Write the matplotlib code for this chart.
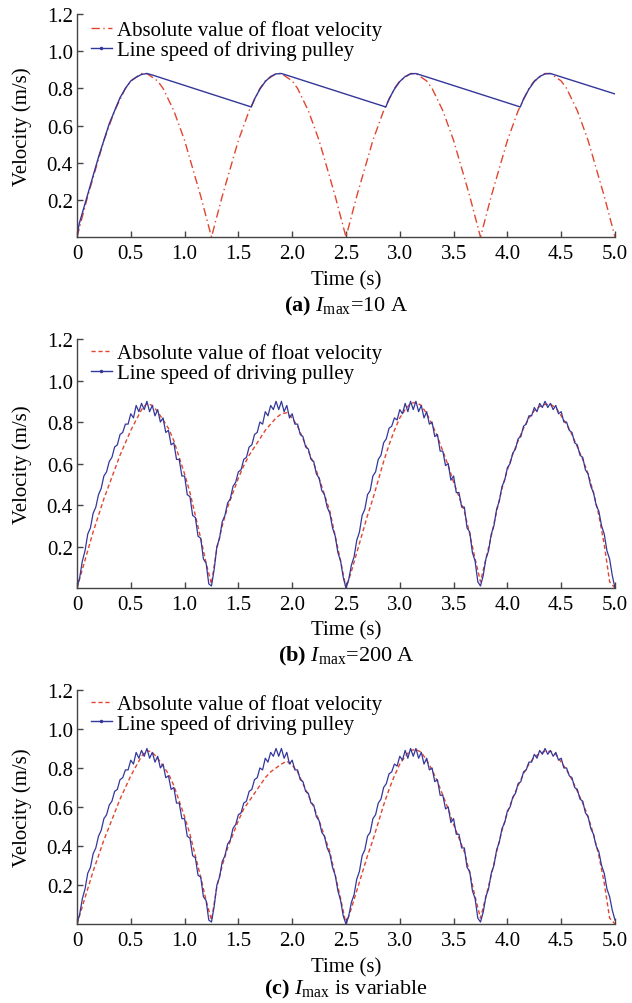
#Float velocity vs. driving pulley line speed for three current limits
#Output: out.png

import numpy as np
import matplotlib
matplotlib.use("Agg")
import matplotlib.pyplot as plt
from matplotlib.lines import Line2D

plt.rcParams["font.family"] = "Liberation Serif"
plt.rcParams["mathtext.fontset"] = "custom"
plt.rcParams["mathtext.rm"] = "Liberation Serif"
plt.rcParams["mathtext.it"] = "Liberation Serif:italic"
plt.rcParams["mathtext.bf"] = "Liberation Serif:bold"

RED = "#e2452f"
BLUE = "#33379a"
AXIS_GREY = "#444444"
FS = 15

labels = ["Absolute value of float velocity", "Line speed of driving pulley"]

x_ticks = [0, 0.5, 1.0, 1.5, 2.0, 2.5, 3.0, 3.5, 4.0, 4.5, 5.0]
x_tick_labels = ["0", "0.5", "1.0", "1.5", "2.0", "2.5", "3.0", "3.5", "4.0", "4.5", "5.0"]
y_ticks = [0.2, 0.4, 0.6, 0.8, 1.0, 1.2]
y_tick_labels = ["0.2", "0.4", "0.6", "0.8", "1.0", "1.2"]

#Sample times (s)
t_coarse = np.linspace(0, 5, 101)   # 0.05 s step
t_fine = np.linspace(0, 5, 201)     # 0.025 s step

#(a) Imax = 10 A
float_a = [
    0.00, 0.11, 0.22, 0.32, 0.42, 0.52, 0.60, 0.68, 0.74, 0.80,
    0.84, 0.86, 0.88, 0.88, 0.86, 0.84, 0.80, 0.74, 0.68, 0.60,
    0.52, 0.42, 0.32, 0.22, 0.11, 0.00, 0.11, 0.22, 0.32, 0.42,
    0.52, 0.60, 0.68, 0.74, 0.80, 0.84, 0.86, 0.88, 0.88, 0.86,
    0.84, 0.80, 0.74, 0.68, 0.60, 0.52, 0.42, 0.32, 0.22, 0.11,
    0.00, 0.11, 0.22, 0.32, 0.42, 0.52, 0.60, 0.68, 0.74, 0.80,
    0.84, 0.86, 0.88, 0.88, 0.86, 0.84, 0.80, 0.74, 0.68, 0.60,
    0.52, 0.42, 0.32, 0.22, 0.11, 0.00, 0.11, 0.22, 0.32, 0.42,
    0.52, 0.60, 0.68, 0.74, 0.80, 0.84, 0.86, 0.88, 0.88, 0.86,
    0.84, 0.80, 0.74, 0.68, 0.60, 0.52, 0.42, 0.32, 0.22, 0.11,
    0.00,
]
pulley_a_t = [
    0.00, 0.02, 0.05, 0.10, 0.15, 0.20, 0.25, 0.30, 0.35, 0.40, 0.45, 0.50,
    0.55, 0.60, 0.65, 0.70,
    1.62, 1.65, 1.70, 1.75, 1.80, 1.85, 1.90, 1.95,
    2.87, 2.90, 2.95, 3.00, 3.05, 3.10, 3.15, 3.20,
    4.12, 4.15, 4.20, 4.25, 4.30, 4.35, 4.40, 4.45,
    5.00,
]
pulley_a = [
    0.00, 0.07, 0.13, 0.23, 0.33, 0.43, 0.52, 0.61, 0.68, 0.75, 0.80, 0.84,
    0.86, 0.875, 0.88, 0.872,
    0.70, 0.743, 0.796, 0.837, 0.864, 0.878, 0.880, 0.871,
    0.70, 0.743, 0.796, 0.837, 0.864, 0.878, 0.880, 0.871,
    0.70, 0.743, 0.796, 0.837, 0.864, 0.878, 0.880, 0.871,
    0.77,
]

#(b) Imax = 200 A
float_b = [
    0.00, 0.09, 0.18, 0.27, 0.35, 0.43, 0.50, 0.57, 0.64, 0.70,
    0.76, 0.81, 0.86, 0.89, 0.88, 0.85, 0.81, 0.77, 0.71, 0.63,
    0.55, 0.46, 0.35, 0.24, 0.12, 0.02, 0.19, 0.30, 0.39, 0.46,
    0.53, 0.59, 0.64, 0.68, 0.72, 0.76, 0.79, 0.82, 0.84, 0.845,
    0.82, 0.78, 0.72, 0.66, 0.60, 0.53, 0.45, 0.37, 0.25, 0.13,
    0.00, 0.08, 0.17, 0.26, 0.35, 0.43, 0.52, 0.61, 0.69, 0.76,
    0.82, 0.86, 0.89, 0.895, 0.88, 0.84, 0.79, 0.73, 0.66, 0.59,
    0.51, 0.44, 0.37, 0.26, 0.14, 0.03, 0.14, 0.25, 0.37, 0.48,
    0.57, 0.645, 0.71, 0.77, 0.82, 0.855, 0.875, 0.885, 0.885, 0.87,
    0.83, 0.79, 0.74, 0.68, 0.62, 0.55, 0.46, 0.35, 0.21, 0.03,
    0.00,
]
pulley_b = [
    0.00, 0.05, 0.13, 0.18, 0.26, 0.29, 0.36, 0.39, 0.45, 0.48,
    0.54, 0.56, 0.61, 0.63, 0.68, 0.69, 0.74, 0.75, 0.79, 0.79,
    0.84, 0.82, 0.88, 0.85, 0.89, 0.86, 0.90, 0.85, 0.88, 0.83,
    0.86, 0.80, 0.82, 0.75, 0.76, 0.69, 0.70, 0.62, 0.62, 0.54,
    0.54, 0.45, 0.44, 0.35, 0.34, 0.25, 0.24, 0.14, 0.12, 0.02,
    0.01, 0.09, 0.20, 0.24, 0.32, 0.35, 0.41, 0.43, 0.49, 0.51,
    0.56, 0.57, 0.62, 0.63, 0.68, 0.69, 0.74, 0.75, 0.80, 0.79,
    0.85, 0.83, 0.88, 0.86, 0.90, 0.86, 0.90, 0.85, 0.88, 0.82,
    0.84, 0.79, 0.79, 0.74, 0.73, 0.68, 0.67, 0.62, 0.61, 0.55,
    0.53, 0.47, 0.45, 0.39, 0.36, 0.29, 0.25, 0.17, 0.13, 0.05,
    0.00, 0.04, 0.11, 0.15, 0.23, 0.27, 0.35, 0.38, 0.45, 0.47,
    0.54, 0.56, 0.62, 0.64, 0.70, 0.72, 0.77, 0.78, 0.82, 0.81,
    0.86, 0.84, 0.89, 0.85, 0.90, 0.86, 0.90, 0.85, 0.88, 0.82,
    0.85, 0.79, 0.80, 0.73, 0.74, 0.66, 0.66, 0.59, 0.60, 0.52,
    0.54, 0.46, 0.46, 0.39, 0.39, 0.29, 0.27, 0.17, 0.13, 0.03,
    0.01, 0.06, 0.14, 0.18, 0.26, 0.30, 0.38, 0.42, 0.49, 0.52,
    0.58, 0.60, 0.65, 0.67, 0.72, 0.73, 0.78, 0.79, 0.83, 0.83,
    0.87, 0.85, 0.89, 0.87, 0.90, 0.87, 0.89, 0.86, 0.88, 0.84,
    0.85, 0.80, 0.80, 0.76, 0.75, 0.70, 0.69, 0.64, 0.63, 0.57,
    0.55, 0.49, 0.46, 0.40, 0.37, 0.30, 0.26, 0.18, 0.14, 0.06,
    0.00,
]

#(c) Imax is variable
float_c = [
    0.00, 0.09, 0.18, 0.27, 0.35, 0.43, 0.50, 0.57, 0.64, 0.70,
    0.76, 0.81, 0.86, 0.89, 0.88, 0.85, 0.81, 0.77, 0.71, 0.63,
    0.55, 0.46, 0.35, 0.24, 0.12, 0.02, 0.19, 0.30, 0.39, 0.46,
    0.53, 0.59, 0.63, 0.67, 0.71, 0.75, 0.78, 0.80, 0.82, 0.835,
    0.815, 0.78, 0.72, 0.66, 0.60, 0.53, 0.45, 0.37, 0.25, 0.13,
    0.00, 0.08, 0.17, 0.26, 0.35, 0.43, 0.52, 0.61, 0.69, 0.76,
    0.82, 0.86, 0.89, 0.895, 0.88, 0.84, 0.79, 0.73, 0.66, 0.59,
    0.51, 0.44, 0.37, 0.26, 0.14, 0.03, 0.14, 0.25, 0.37, 0.48,
    0.57, 0.645, 0.71, 0.77, 0.82, 0.855, 0.875, 0.885, 0.885, 0.87,
    0.83, 0.79, 0.74, 0.68, 0.62, 0.55, 0.46, 0.35, 0.21, 0.03,
    0.00,
]
pulley_c = [
    0.00, 0.05, 0.13, 0.18, 0.26, 0.29, 0.36, 0.39, 0.45, 0.48,
    0.54, 0.56, 0.61, 0.63, 0.68, 0.69, 0.74, 0.75, 0.79, 0.79,
    0.84, 0.82, 0.88, 0.85, 0.89, 0.86, 0.90, 0.85, 0.88, 0.83,
    0.86, 0.80, 0.82, 0.75, 0.76, 0.69, 0.70, 0.62, 0.62, 0.54,
    0.54, 0.45, 0.44, 0.35, 0.34, 0.25, 0.24, 0.14, 0.12, 0.02,
    0.01, 0.09, 0.20, 0.24, 0.32, 0.35, 0.41, 0.43, 0.49, 0.51,
    0.56, 0.57, 0.62, 0.63, 0.68, 0.69, 0.74, 0.75, 0.80, 0.79,
    0.85, 0.83, 0.88, 0.86, 0.90, 0.86, 0.90, 0.85, 0.88, 0.82,
    0.84, 0.79, 0.79, 0.74, 0.73, 0.68, 0.67, 0.62, 0.61, 0.55,
    0.53, 0.47, 0.45, 0.39, 0.36, 0.29, 0.25, 0.17, 0.12, 0.04,
    0.00, 0.04, 0.11, 0.15, 0.23, 0.27, 0.35, 0.38, 0.45, 0.47,
    0.54, 0.56, 0.62, 0.64, 0.70, 0.72, 0.77, 0.78, 0.82, 0.81,
    0.86, 0.84, 0.89, 0.85, 0.90, 0.86, 0.90, 0.85, 0.88, 0.82,
    0.85, 0.79, 0.80, 0.73, 0.74, 0.66, 0.66, 0.59, 0.60, 0.52,
    0.54, 0.46, 0.46, 0.39, 0.39, 0.29, 0.27, 0.17, 0.13, 0.03,
    0.01, 0.06, 0.14, 0.18, 0.26, 0.30, 0.38, 0.42, 0.49, 0.52,
    0.58, 0.60, 0.65, 0.67, 0.72, 0.73, 0.78, 0.79, 0.83, 0.83,
    0.87, 0.85, 0.89, 0.87, 0.90, 0.87, 0.89, 0.86, 0.88, 0.84,
    0.85, 0.80, 0.80, 0.76, 0.75, 0.70, 0.69, 0.64, 0.63, 0.57,
    0.55, 0.49, 0.46, 0.40, 0.37, 0.30, 0.26, 0.18, 0.14, 0.07,
    0.02,
]

captions = [
    r"$\mathbf{(a)}$ $I_{\mathrm{max}}$=10 A",
    r"$\mathbf{(b)}$ $I_{\mathrm{max}}$=200 A",
    r"$\mathbf{(c)}$ $I_{\mathrm{max}}$ is variable",
]

DASH_DOT = (6, 2.5, 1, 2.5)
DASHED = (3, 2)


def style_axes(ax):
    ax.set_xlim(0, 5)
    ax.set_ylim(0, 1.2)
    ax.spines["top"].set_visible(False)
    ax.spines["right"].set_visible(False)
    for side in ["left", "bottom"]:
        ax.spines[side].set_color(AXIS_GREY)
        ax.spines[side].set_linewidth(1.0)
    ax.set_xticks(x_ticks)
    ax.set_xticklabels(x_tick_labels)
    ax.set_yticks(y_ticks)
    ax.set_yticklabels(y_tick_labels)
    ax.tick_params(direction="in", length=4, width=1.0, color=AXIS_GREY,
                   labelsize=FS, labelcolor="black")
    ax.tick_params(axis="x", pad=5)
    ax.tick_params(axis="y", pad=3)
    ax.set_ylabel("Velocity (m/s)", fontsize=FS)
    ax.yaxis.set_label_coords(-0.084, 0.5)


def add_legend(ax, red_dashes, y_anchor):
    handles = [
        Line2D([], [], color=RED, lw=1.0, dashes=red_dashes),
        Line2D([], [], color=BLUE, lw=1.0, marker=".", markersize=3),
    ]
    ax.legend(handles, labels, loc="upper left", bbox_to_anchor=(0.026, y_anchor),
              frameon=False, fontsize=FS, handlelength=1.0, handletextpad=0.25,
              labelspacing=0.0, borderaxespad=0, borderpad=0)


fig = plt.figure(figsize=(6.32, 10.04), dpi=100)

#Axes boxes: [left, bottom, width, height] in figure fractions
ax_a = fig.add_axes([0.1218, 0.7629, 0.8513, 0.2221])
ax_b = fig.add_axes([0.1218, 0.4133, 0.8513, 0.2480])
ax_c = fig.add_axes([0.1218, 0.0787, 0.8513, 0.2331])

#(a)
ax_a.plot(t_coarse, float_a, color=RED, lw=1.0, dashes=DASH_DOT)
ax_a.plot(pulley_a_t, pulley_a, color=BLUE, lw=1.0)
style_axes(ax_a)
add_legend(ax_a, DASH_DOT, 0.973)

#(b)
ax_b.plot(t_coarse, float_b, color=RED, lw=1.0, dashes=DASHED)
ax_b.plot(t_fine, pulley_b, color=BLUE, lw=0.9)
style_axes(ax_b)
add_legend(ax_b, DASHED, 0.984)

#(c)
ax_c.plot(t_coarse, float_c, color=RED, lw=1.0, dashes=DASHED)
ax_c.plot(t_fine, pulley_c, color=BLUE, lw=0.9)
style_axes(ax_c)
add_legend(ax_c, DASHED, 0.983)

#Time label and caption under each panel (axes fractions)
label_pos = [(ax_a, -0.193, -0.307), (ax_b, -0.169, -0.271), (ax_c, -0.184, -0.276)]
for (ax, y_time, y_cap), cap in zip(label_pos, captions):
    ax.text(0.5, y_time, "Time (s)", transform=ax.transAxes, ha="center",
            va="center", fontsize=FS)
    ax.text(0.5, y_cap, cap, transform=ax.transAxes, ha="center",
            va="center", fontsize=FS + 1)

plt.savefig("out.png", dpi=100)
plt.close()
print("Saved: out.png")
